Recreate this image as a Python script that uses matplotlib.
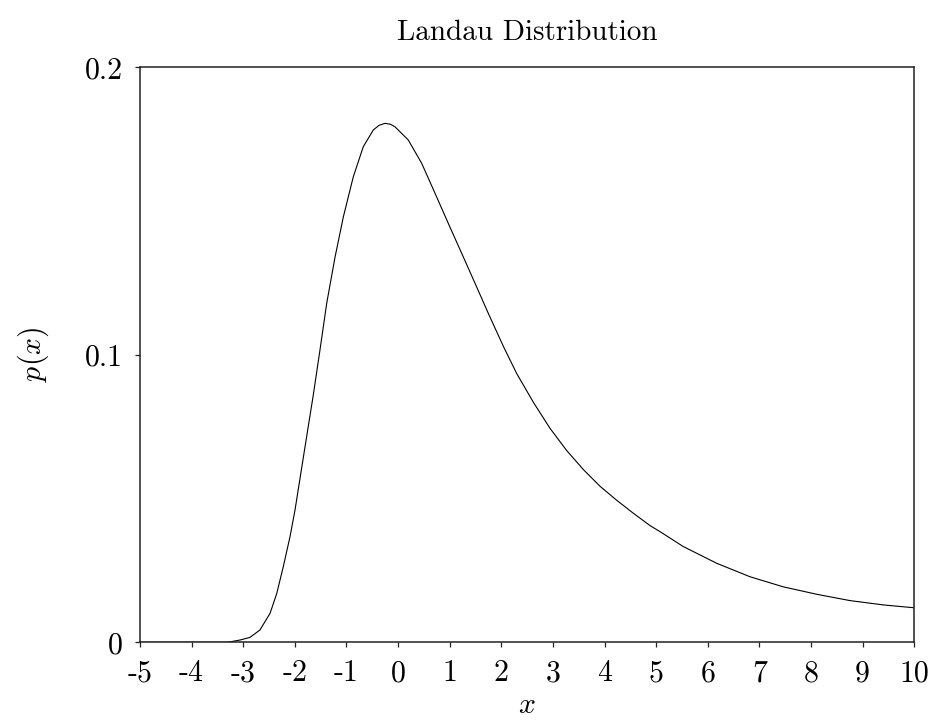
#!/usr/bin/env python3
"""Landau distribution density, redrawn from the reference figure."""

import matplotlib
matplotlib.use("Agg")
import matplotlib.pyplot as plt

# values
x_vals = [
  -5.0, -4.0, -3.3, -3.06, -2.87, -2.675, -2.48, -2.35, -2.224, -2.094,
  -1.997, -1.90, -1.77, -1.643, -1.513, -1.383, -1.22, -1.06, -0.868, -0.674,
  -0.48, -0.37, -0.254, -0.15, -0.06, 0.198, 0.457, 0.715, 0.973, 1.232,
  1.49, 1.748, 2.038, 2.297, 2.62, 2.94, 3.266, 3.588, 3.91, 4.235,
  4.556, 4.88, 5.073, 5.525, 6.17, 6.817, 7.46, 8.11, 8.755, 9.40, 10.0,
]
p_vals = [
  0.0, 0.0, 0.0, 0.0008, 0.0017, 0.0043, 0.0101, 0.0170, 0.0263, 0.0367,
  0.0460, 0.0570, 0.0717, 0.0860, 0.1017, 0.1179, 0.1341, 0.1480, 0.1619, 0.1724,
  0.1782, 0.1798, 0.1805, 0.1802, 0.1793, 0.1747, 0.1666, 0.1562, 0.1457, 0.1353,
  0.1249, 0.1144, 0.1030, 0.0935, 0.0835, 0.0745, 0.0667, 0.0601, 0.0543, 0.0494,
  0.0449, 0.0406, 0.0385, 0.0333, 0.0275, 0.0228, 0.0193, 0.0167, 0.0145, 0.0130, 0.0120,
]

x_ticks = list(range(-5, 11))
x_tick_labels = [str(v) for v in x_ticks]
y_ticks = [0, 0.1, 0.2]
y_tick_labels = ["0", "0.1", "0.2"]

plt.rcParams["font.family"] = "serif"
plt.rcParams["font.serif"] = ["cmr10", "DejaVu Serif"]
plt.rcParams["mathtext.fontset"] = "cm"
plt.rcParams["axes.unicode_minus"] = False

fig = plt.figure(figsize=(9.32, 7.22), dpi=100)
ax = fig.add_axes([0.1502, 0.1104, 0.8308, 0.7964])

ax.plot(x_vals, p_vals, color="black", linewidth=0.8)
ax.set_xlim(-5, 10)
ax.set_ylim(0, 0.2)

ax.set_xticks(x_ticks)
ax.set_xticklabels(x_tick_labels)
ax.set_yticks(y_ticks)
ax.set_yticklabels(y_tick_labels)
ax.tick_params(direction="out", length=3.5, width=0.9, labelsize=21.5, color="#222222")
ax.tick_params(axis="x", pad=9)
ax.tick_params(axis="y", pad=9)

for spine in ax.spines.values():
  spine.set_color("#222222")
  spine.set_linewidth(1.1)

ax.set_title("Landau Distribution", fontsize=21, pad=20)
ax.set_xlabel("$x$", fontsize=21.5, labelpad=3)
ax.set_ylabel("$p(x)$", fontsize=21.5, labelpad=24)

fig.savefig("out.png", dpi=100, facecolor="white")
plt.close(fig)
